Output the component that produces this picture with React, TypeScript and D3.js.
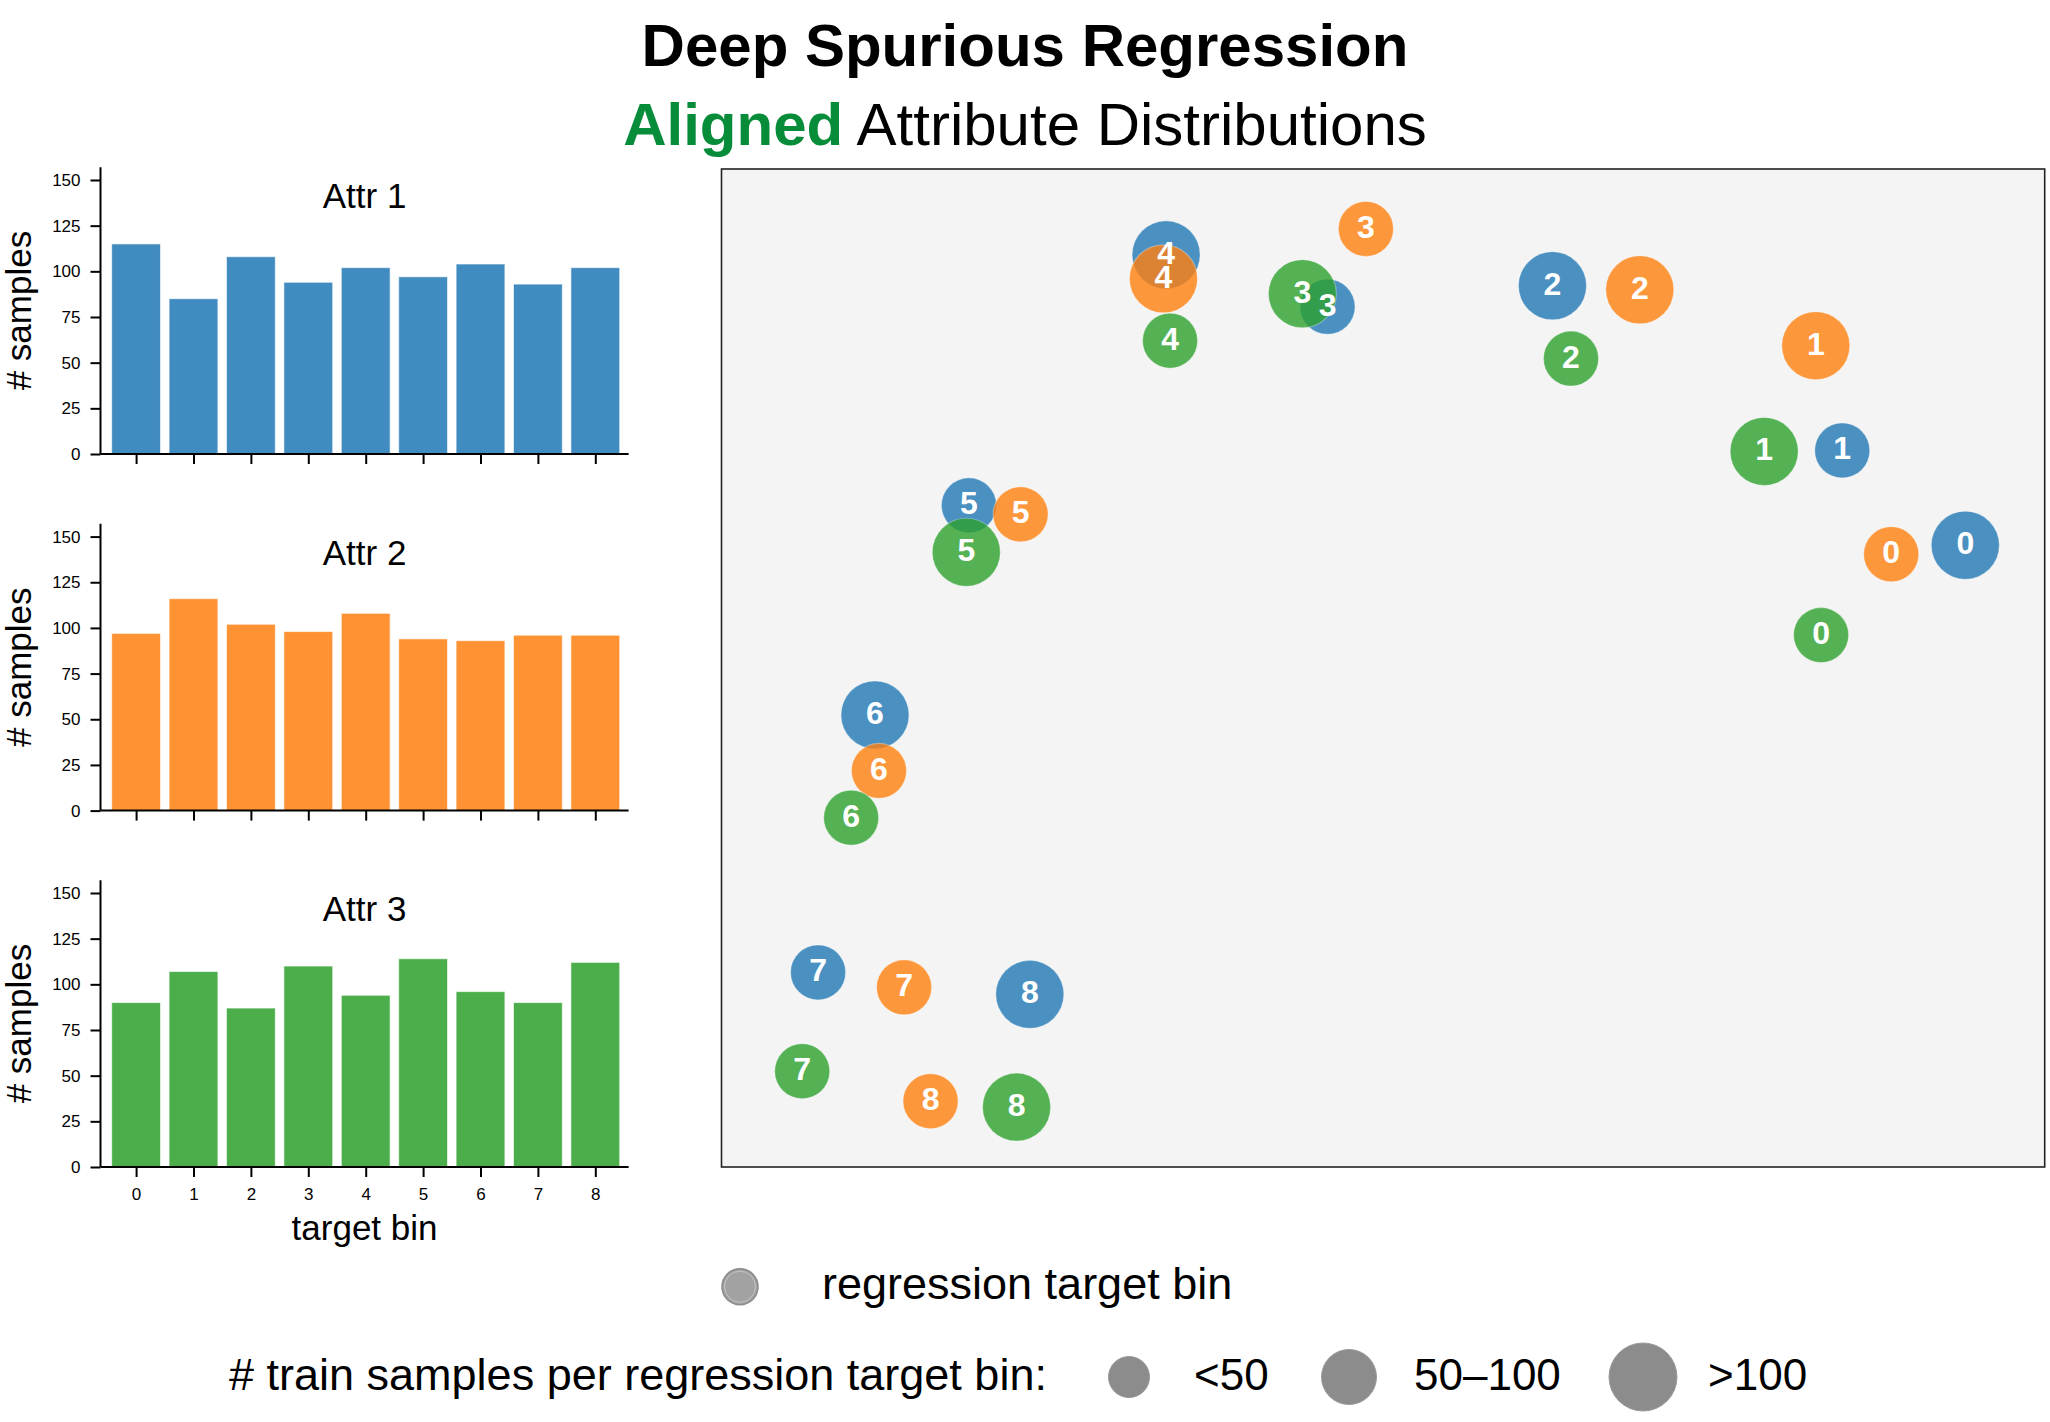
import { useRef, useEffect } from 'react';
import * as d3 from 'd3';

const BINS = [0, 1, 2, 3, 4, 5, 6, 7, 8];
const ATTR_NAMES = ['Attr 1', 'Attr 2', 'Attr 3'];
const ATTR_COLORS = ['#1f77b4', '#ff7f0e', '#2ca02c'];
const Y_TICKS = [0, 25, 50, 75, 100, 125, 150];

// train samples per target bin, per attribute
const ATTR1_COUNTS = [115, 85, 108, 94, 102, 97, 104, 93, 102];
const ATTR2_COUNTS = [97, 116, 102, 98, 108, 94, 93, 96, 96];
const ATTR3_COUNTS = [90, 107, 87, 110, 94, 114, 96, 90, 112];

// 2-D embedding of each (attribute, target bin) group, normalised units
const ATTR1_EMB_X = [0.940, 0.847, 0.628, 0.458, 0.336, 0.187, 0.116, 0.073, 0.233];
const ATTR1_EMB_Y = [0.623, 0.718, 0.883, 0.862, 0.914, 0.663, 0.453, 0.195, 0.173];
const ATTR2_EMB_X = [0.884, 0.827, 0.694, 0.487, 0.334, 0.226, 0.119, 0.138, 0.158];
const ATTR2_EMB_Y = [0.614, 0.823, 0.879, 0.940, 0.890, 0.654, 0.397, 0.180, 0.066];
const ATTR3_EMB_X = [0.831, 0.788, 0.642, 0.439, 0.339, 0.185, 0.098, 0.061, 0.223];
const ATTR3_EMB_Y = [0.533, 0.717, 0.810, 0.875, 0.828, 0.616, 0.350, 0.096, 0.060];

const SIZE_LABELS = ['<50', '50–100', '>100'];
const SIZE_THRESHOLDS = [50, 101];

export default function App() {
  const ref = useRef<SVGSVGElement>(null);

  useEffect(() => {
    const el = ref.current;
    if (!el) return;
    const W = 2050, H = 1422;
    const svg = d3.select(el).attr('width', W).attr('height', H);
    svg.selectAll('*').remove();
    svg.attr('font-family', '"Liberation Sans", Arial, Helvetica, sans-serif');

    // Titles
    svg.append('text').attr('x', 1025).attr('y', 66).attr('text-anchor', 'middle')
      .attr('font-size', 60).attr('font-weight', 'bold').attr('fill', '#000')
      .text('Deep Spurious Regression');
    const sub = svg.append('text').attr('x', 1025).attr('y', 145).attr('text-anchor', 'middle')
      .attr('font-size', 60).attr('fill', '#000');
    sub.append('tspan').attr('font-weight', 'bold').attr('fill', '#078c3a').text('Aligned');
    sub.append('tspan').text(' Attribute Distributions');

    // Bar panels
    const COUNTS = [ATTR1_COUNTS, ATTR2_COUNTS, ATTR3_COUNTS];
    const padL = 100.5, padR = 628.6;
    const zeroLines = [454, 810.6, 1167];
    const x = d3.scaleLinear().domain([-0.62, 8.58]).range([padL, padR]);
    const barW = 0.85;

    COUNTS.forEach((counts, k) => {
      const base = zeroLines[k];
      const y = d3.scaleLinear().domain([0, 157]).range([base, base - 286.8]);
      const g = svg.append('g');

      counts.forEach((v, i) => {
        g.append('rect')
          .attr('x', x(BINS[i] - barW / 2)).attr('width', x(barW / 2) - x(-barW / 2))
          .attr('y', y(v)).attr('height', y(0) - y(v))
          .attr('fill', ATTR_COLORS[k]).attr('fill-opacity', 0.85)
          .attr('stroke', '#fff').attr('stroke-opacity', 0.6).attr('stroke-width', 1);
      });

      const yAxis = g.append('g').attr('transform', `translate(${padL},0)`)
        .call(d3.axisLeft(y).tickValues(Y_TICKS).tickSize(10).tickSizeOuter(0).tickPadding(10));
      const xAxis = g.append('g').attr('transform', `translate(0,${base})`)
        .call(d3.axisBottom(x).tickValues(BINS).tickSize(10).tickSizeOuter(0).tickPadding(11)
          .tickFormat((d) => (k === 2 ? String(d) : '')));
      [yAxis, xAxis].forEach((a) => {
        a.attr('font-family', null).attr('font-size', 17);
        a.selectAll('path').attr('stroke', '#000').attr('stroke-width', 2);
        a.selectAll('line').attr('stroke', '#000').attr('stroke-width', 2);
        a.selectAll('text').attr('fill', '#000');
      });
      // spine only between data limits
      yAxis.select('path').attr('d', `M0,${y(0)}V${y(157)}`);
      xAxis.select('path').attr('d', `M${padL},0H${padR}`);

      g.append('text').attr('x', (padL + padR) / 2).attr('y', base - 246)
        .attr('text-anchor', 'middle').attr('font-size', 35).attr('fill', '#000')
        .text(ATTR_NAMES[k]);

      g.append('text').attr('transform', `translate(31,${(y(0) + y(157)) / 2}) rotate(-90)`)
        .attr('text-anchor', 'middle').attr('font-size', 35).attr('fill', '#000')
        .text('# samples');
    });

    svg.append('text').attr('x', (padL + padR) / 2).attr('y', 1240)
      .attr('text-anchor', 'middle').attr('font-size', 35).attr('fill', '#000')
      .text('target bin');

    // Embedding scatter
    const fL = 721.5, fR = 2044.7, fT = 169, fB = 1167;
    const sx = d3.scaleLinear().domain([0, 1]).range([fL, fR]);
    const sy = d3.scaleLinear().domain([0, 1]).range([fB, fT]);
    const r = d3.scaleThreshold<number, number>().domain(SIZE_THRESHOLDS).range([20.5, 27.5, 34]);

    svg.append('rect').attr('x', fL).attr('y', fT).attr('width', fR - fL).attr('height', fB - fT)
      .attr('fill', '#f4f4f4').attr('stroke', '#222').attr('stroke-width', 1.6);

    const EMB = [
      [ATTR1_EMB_X, ATTR1_EMB_Y],
      [ATTR2_EMB_X, ATTR2_EMB_Y],
      [ATTR3_EMB_X, ATTR3_EMB_Y],
    ];
    const pts = EMB.flatMap(([ex, ey], k) =>
      BINS.map((b, i) => ({ k, bin: b, x: ex[i], y: ey[i], n: COUNTS[k][i] })));

    svg.append('g').selectAll('circle').data(pts).join('circle')
      .attr('cx', (d) => sx(d.x)).attr('cy', (d) => sy(d.y)).attr('r', (d) => r(d.n))
      .attr('fill', (d) => ATTR_COLORS[d.k]).attr('fill-opacity', 0.8)
      .attr('stroke', '#fff').attr('stroke-opacity', 0.3).attr('stroke-width', 1.2);

    svg.append('g').selectAll('text').data(pts).join('text')
      .attr('x', (d) => sx(d.x)).attr('y', (d) => sy(d.y) + 9)
      .attr('text-anchor', 'middle').attr('font-size', 32).attr('font-weight', 'bold')
      .attr('fill', '#fff').text((d) => String(d.bin));

    // Legend
    svg.append('circle').attr('cx', 740).attr('cy', 1286.7).attr('r', 18)
      .attr('fill', '#a2a2a2').attr('stroke', '#8c8c8c').attr('stroke-width', 1.5);
    svg.append('circle').attr('cx', 740).attr('cy', 1286.7).attr('r', 15.5)
      .attr('fill', 'none').attr('stroke', '#fff').attr('stroke-opacity', 0.35).attr('stroke-width', 1);
    svg.append('text').attr('x', 822).attr('y', 1299).attr('font-size', 45).attr('fill', '#000')
      .text('regression target bin');

    svg.append('text').attr('x', 229).attr('y', 1390).attr('font-size', 45).attr('fill', '#000')
      .text('# train samples per regression target bin:');
    const sizeLegendX = [1129, 1349, 1643];
    const sizeLegendTextX = [1194, 1414, 1708];
    const sizeRep = [0, 75, 150];
    SIZE_LABELS.forEach((lab, i) => {
      svg.append('circle').attr('cx', sizeLegendX[i]).attr('cy', 1377).attr('r', r(sizeRep[i]))
        .attr('fill', '#8c8c8c').attr('stroke', '#9a9a9a').attr('stroke-width', 1);
      svg.append('text').attr('x', sizeLegendTextX[i]).attr('y', 1390).attr('font-size', 44)
        .attr('fill', '#000').text(lab);
    });
  }, []);

  return (
    <div style={{ position: 'absolute', left: 0, top: 0, background: '#fff' }}>
      <svg ref={ref} style={{ display: 'block' }} />
    </div>
  );
}
